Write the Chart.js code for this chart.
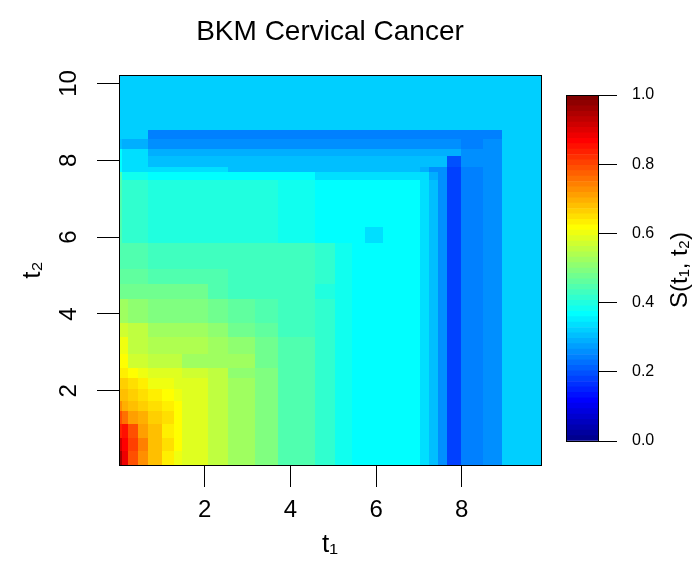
<!DOCTYPE html>
<html>
<head>
<meta charset="utf-8">
<title>BKM Cervical Cancer</title>
<script src="https://cdn.jsdelivr.net/npm/chart.js@4.4.1/dist/chart.umd.min.js"></script>
<style>
  html, body { margin: 0; padding: 0; background: #fff; }
  #wrap { position: relative; width: 695px; height: 563px; }
  #surfChart { position: absolute; left: 0; top: 0; }
  #keyChart { position: absolute; left: 540px; top: 0; }
</style>
</head>
<body>
<div id="wrap">
  <canvas id="surfChart" width="695" height="563"></canvas>
  <canvas id="keyChart" width="155" height="563"></canvas>
</div>
<script>
Chart.defaults.font.family = '"Liberation Sans", Arial, Helvetica, sans-serif';
Chart.defaults.color = '#000';

// cell edges of the estimate along t1 and t2
const t1Breaks = [0, 0.08, 0.22, 0.45, 0.68, 1.00, 1.29, 1.46, 2.08, 2.54, 3.18, 3.71, 4.58,
                  5.04, 5.44, 5.74, 6.17, 7.03, 7.24, 7.45, 7.66, 7.99, 8.50, 8.94, 9.85];
const t2Breaks = [0.07, 0.43, 0.77, 1.14, 1.48, 1.74, 2.05, 2.34, 2.60, 2.97, 3.39, 3.77, 4.40,
                  4.79, 5.18, 5.84, 6.27, 7.48, 7.70, 7.83, 8.10, 8.29, 8.55, 8.80, 10.22];

// axis limits and ticks
const t1Range = [0, 9.85];
const t2Range = [0.07, 10.22];
const t1Ticks = [2, 4, 6, 8];
const t2Ticks = [2, 4, 6, 8, 10];
const keyTicks = [0, 0.2, 0.4, 0.6, 0.8, 1.0];

// S(t1, t2) for each cell, one row per t2 interval, lowest row first
const survRows = [
  [0.96, 0.89, 0.79, 0.73, 0.68, 0.64, 0.60, 0.59, 0.55, 0.52, 0.49, 0.44, 0.41, 0.39, 0.37, 0.37, 0.37, 0.34, 0.30, 0.26, 0.18, 0.24, 0.26, 0.32],
  [0.92, 0.87, 0.81, 0.74, 0.68, 0.65, 0.62, 0.59, 0.55, 0.52, 0.49, 0.44, 0.41, 0.39, 0.37, 0.37, 0.37, 0.34, 0.30, 0.26, 0.18, 0.24, 0.26, 0.32],
  [0.84, 0.85, 0.79, 0.71, 0.68, 0.64, 0.61, 0.59, 0.55, 0.52, 0.49, 0.44, 0.41, 0.39, 0.37, 0.37, 0.37, 0.34, 0.30, 0.26, 0.18, 0.24, 0.26, 0.32],
  [0.79, 0.76, 0.71, 0.70, 0.67, 0.65, 0.62, 0.59, 0.55, 0.52, 0.49, 0.44, 0.41, 0.39, 0.37, 0.37, 0.37, 0.34, 0.30, 0.26, 0.18, 0.24, 0.26, 0.32],
  [0.73, 0.70, 0.68, 0.67, 0.65, 0.63, 0.62, 0.59, 0.55, 0.52, 0.49, 0.44, 0.41, 0.39, 0.37, 0.37, 0.37, 0.34, 0.30, 0.26, 0.18, 0.24, 0.26, 0.32],
  [0.68, 0.68, 0.66, 0.65, 0.63, 0.62, 0.60, 0.59, 0.55, 0.52, 0.49, 0.44, 0.41, 0.39, 0.37, 0.37, 0.37, 0.34, 0.30, 0.26, 0.18, 0.24, 0.26, 0.32],
  [0.66, 0.66, 0.65, 0.63, 0.60, 0.60, 0.59, 0.58, 0.55, 0.52, 0.49, 0.44, 0.41, 0.39, 0.37, 0.37, 0.37, 0.34, 0.30, 0.26, 0.18, 0.24, 0.26, 0.32],
  [0.63, 0.63, 0.62, 0.60, 0.59, 0.59, 0.58, 0.57, 0.55, 0.51, 0.49, 0.44, 0.41, 0.39, 0.37, 0.37, 0.37, 0.34, 0.30, 0.26, 0.18, 0.24, 0.26, 0.32],
  [0.62, 0.62, 0.57, 0.57, 0.55, 0.55, 0.55, 0.53, 0.53, 0.52, 0.48, 0.44, 0.41, 0.39, 0.37, 0.37, 0.37, 0.34, 0.30, 0.26, 0.18, 0.24, 0.26, 0.32],
  [0.60, 0.60, 0.55, 0.55, 0.54, 0.54, 0.54, 0.54, 0.52, 0.51, 0.47, 0.44, 0.41, 0.39, 0.37, 0.37, 0.37, 0.34, 0.30, 0.26, 0.18, 0.24, 0.26, 0.32],
  [0.57, 0.57, 0.55, 0.55, 0.52, 0.52, 0.52, 0.52, 0.50, 0.48, 0.46, 0.43, 0.41, 0.39, 0.37, 0.37, 0.37, 0.34, 0.30, 0.26, 0.18, 0.24, 0.26, 0.32],
  [0.53, 0.53, 0.51, 0.51, 0.49, 0.49, 0.49, 0.49, 0.47, 0.46, 0.45, 0.43, 0.41, 0.39, 0.37, 0.37, 0.37, 0.34, 0.30, 0.26, 0.18, 0.24, 0.26, 0.32],
  [0.48, 0.48, 0.47, 0.47, 0.47, 0.47, 0.47, 0.47, 0.45, 0.43, 0.43, 0.43, 0.40, 0.39, 0.37, 0.37, 0.37, 0.34, 0.30, 0.26, 0.18, 0.24, 0.26, 0.32],
  [0.46, 0.46, 0.46, 0.46, 0.45, 0.45, 0.45, 0.45, 0.44, 0.43, 0.43, 0.43, 0.41, 0.39, 0.37, 0.37, 0.37, 0.34, 0.30, 0.26, 0.18, 0.24, 0.26, 0.32],
  [0.45, 0.45, 0.44, 0.44, 0.43, 0.43, 0.43, 0.43, 0.43, 0.43, 0.43, 0.43, 0.41, 0.38, 0.37, 0.37, 0.37, 0.34, 0.30, 0.26, 0.18, 0.24, 0.26, 0.32],
  [0.44, 0.41, 0.41, 0.41, 0.40, 0.40, 0.40, 0.40, 0.40, 0.40, 0.40, 0.39, 0.37, 0.37, 0.37, 0.34, 0.37, 0.34, 0.30, 0.26, 0.18, 0.24, 0.26, 0.32],
  [0.44, 0.41, 0.41, 0.41, 0.40, 0.40, 0.40, 0.40, 0.40, 0.40, 0.40, 0.39, 0.37, 0.37, 0.37, 0.37, 0.37, 0.34, 0.30, 0.26, 0.18, 0.24, 0.26, 0.32],
  [0.44, 0.38, 0.38, 0.38, 0.37, 0.37, 0.37, 0.37, 0.37, 0.37, 0.37, 0.36, 0.34, 0.34, 0.34, 0.34, 0.34, 0.33, 0.29, 0.26, 0.18, 0.24, 0.26, 0.32],
  [0.37, 0.34, 0.34, 0.34, 0.34, 0.34, 0.34, 0.34, 0.34, 0.30, 0.30, 0.30, 0.30, 0.30, 0.30, 0.30, 0.30, 0.29, 0.26, 0.25, 0.18, 0.24, 0.26, 0.32],
  [0.37, 0.33, 0.33, 0.33, 0.30, 0.30, 0.30, 0.30, 0.30, 0.30, 0.30, 0.30, 0.30, 0.30, 0.30, 0.30, 0.30, 0.30, 0.30, 0.30, 0.20, 0.25, 0.26, 0.32],
  [0.37, 0.33, 0.33, 0.33, 0.29, 0.29, 0.29, 0.29, 0.29, 0.29, 0.29, 0.29, 0.29, 0.29, 0.29, 0.29, 0.29, 0.29, 0.29, 0.29, 0.29, 0.25, 0.26, 0.32],
  [0.31, 0.29, 0.29, 0.29, 0.25, 0.25, 0.25, 0.25, 0.25, 0.25, 0.25, 0.25, 0.25, 0.25, 0.25, 0.25, 0.25, 0.25, 0.25, 0.25, 0.25, 0.24, 0.25, 0.32],
  [0.32, 0.32, 0.32, 0.32, 0.24, 0.24, 0.24, 0.24, 0.24, 0.24, 0.24, 0.24, 0.24, 0.24, 0.24, 0.24, 0.24, 0.24, 0.24, 0.24, 0.24, 0.24, 0.24, 0.32],
  [0.32, 0.32, 0.32, 0.32, 0.32, 0.32, 0.32, 0.32, 0.32, 0.32, 0.32, 0.32, 0.32, 0.32, 0.32, 0.32, 0.32, 0.32, 0.32, 0.32, 0.32, 0.32, 0.32, 0.32]
];

// 64-step blue-cyan-yellow-red scale (tim.colors)
const palette = [
  '#00008F', '#00009F', '#0000AF', '#0000BF', '#0000CF', '#0000DF', '#0000EF', '#0000FF',
  '#0010FF', '#0020FF', '#0030FF', '#0040FF', '#0050FF', '#0060FF', '#0070FF', '#0080FF',
  '#008FFF', '#009FFF', '#00AFFF', '#00BFFF', '#00CFFF', '#00DFFF', '#00EFFF', '#00FFFF',
  '#10FFEF', '#20FFDF', '#30FFCF', '#40FFBF', '#50FFAF', '#60FF9F', '#70FF8F', '#80FF80',
  '#8FFF70', '#9FFF60', '#AFFF50', '#BFFF40', '#CFFF30', '#DFFF20', '#EFFF10', '#FFFF00',
  '#FFEF00', '#FFDF00', '#FFCF00', '#FFBF00', '#FFAF00', '#FF9F00', '#FF8F00', '#FF8000',
  '#FF7000', '#FF6000', '#FF5000', '#FF4000', '#FF3000', '#FF2000', '#FF1000', '#FF0000',
  '#EF0000', '#DF0000', '#CF0000', '#BF0000', '#AF0000', '#9F0000', '#8F0000', '#800000'
];

function colourFor(s) {
  const i = Math.floor(s * palette.length);
  return palette[Math.min(palette.length - 1, Math.max(0, i))];
}

// paints the cells through the chart scales, then the frame around the plot
const heatmapPlugin = {
  id: 'heatmap',
  beforeDatasetsDraw(chart) {
    const { ctx, scales: { x, y } } = chart;
    ctx.save();
    for (let r = 0; r < survRows.length; r++) {
      const yTop = Math.round(y.getPixelForValue(t2Breaks[r + 1]));
      const yBot = Math.round(y.getPixelForValue(t2Breaks[r]));
      for (let c = 0; c < t1Breaks.length - 1; c++) {
        const xL = Math.round(x.getPixelForValue(t1Breaks[c]));
        const xR = Math.round(x.getPixelForValue(t1Breaks[c + 1]));
        ctx.fillStyle = colourFor(survRows[r][c]);
        ctx.fillRect(xL, yTop, xR - xL, yBot - yTop);
      }
    }
    ctx.restore();
  },
  afterDraw(chart) {
    const { ctx, chartArea: a } = chart;
    ctx.save();
    ctx.strokeStyle = '#000';
    ctx.lineWidth = 1;
    ctx.strokeRect(Math.round(a.left) + 0.5, Math.round(a.top) + 0.5,
                   Math.round(a.right - a.left), Math.round(a.bottom - a.top));
    ctx.restore();
  }
};

const surfChart = new Chart(document.getElementById('surfChart'), {
  type: 'scatter',
  data: { datasets: [{ data: [], pointRadius: 0 }] },
  options: {
    responsive: false,
    animation: false,
    layout: { padding: { left: 0, right: 154, top: 0, bottom: 0 } },
    plugins: {
      legend: { display: false },
      tooltip: { enabled: false },
      title: {
        display: true,
        text: 'BKM Cervical Cancer',
        fullSize: false,
        color: '#000',
        font: { size: 28, weight: 'normal' },
        padding: { top: 15, bottom: 26.4 }
      }
    },
    scales: {
      x: {
        type: 'linear',
        min: t1Range[0],
        max: t1Range[1],
        afterBuildTicks: s => { s.ticks = t1Ticks.map(v => ({ value: v })); },
        afterFit: s => { s.height = 98; },
        border: { display: false },
        grid: { drawOnChartArea: false, tickLength: 22, tickColor: '#000', tickWidth: 1 },
        ticks: { font: { size: 24 }, padding: 9 },
        title: { display: true, text: 't₁', font: { size: 26 }, padding: { top: 0, bottom: 3 } }
      },
      y: {
        type: 'linear',
        min: t2Range[0],
        max: t2Range[1],
        afterBuildTicks: s => { s.ticks = t2Ticks.map(v => ({ value: v })); },
        afterFit: s => { s.width = 119; },
        border: { display: false },
        grid: { drawOnChartArea: false, tickLength: 22, tickColor: '#000', tickWidth: 1 },
        ticks: { font: { size: 24 }, padding: 14, minRotation: 90, maxRotation: 90, crossAlign: 'center' },
        title: { display: true, text: 't₂', font: { size: 26 }, padding: { top: 17, bottom: 0 } }
      }
    }
  },
  plugins: [heatmapPlugin]
});

// frame and rotated caption of the colour key
const keyFramePlugin = {
  id: 'keyFrame',
  afterDatasetsDraw(chart) {
    const { ctx, chartArea: a } = chart;
    ctx.save();
    ctx.strokeStyle = '#000';
    ctx.lineWidth = 1;
    ctx.strokeRect(Math.round(a.left) + 0.5, Math.round(a.top) + 0.5,
                   Math.round(a.right - a.left), Math.round(a.bottom - a.top));
    ctx.restore();
  },
  afterDraw(chart) {
    const { ctx } = chart;
    ctx.save();
    ctx.translate(140, 270);
    ctx.rotate(-Math.PI / 2);
    ctx.fillStyle = '#000';
    ctx.font = '24px "Liberation Sans", Arial, sans-serif';
    ctx.textAlign = 'center';
    ctx.textBaseline = 'middle';
    ctx.fillText('S(t₁, t₂)', 0, 0);
    ctx.restore();
  }
};

const keyChart = new Chart(document.getElementById('keyChart'), {
  type: 'bar',
  data: {
    labels: [''],
    datasets: palette.map(c => ({
      data: [1 / palette.length],
      backgroundColor: c,
      borderWidth: 0,
      barPercentage: 1,
      categoryPercentage: 1
    }))
  },
  options: {
    responsive: false,
    animation: false,
    layout: { padding: { left: 26, right: 0, top: 95, bottom: 122 } },
    plugins: { legend: { display: false }, tooltip: { enabled: false } },
    scales: {
      x: { display: false, stacked: true },
      y: {
        stacked: true,
        position: 'right',
        min: 0,
        max: 1,
        afterBuildTicks: s => { s.ticks = keyTicks.map(v => ({ value: v })); },
        afterFit: s => { s.width = 97; },
        border: { display: false },
        grid: { drawOnChartArea: false, tickLength: 19, tickColor: '#000', tickWidth: 1 },
        ticks: { font: { size: 16 }, padding: 15, callback: v => v.toFixed(1) }
      }
    }
  },
  plugins: [keyFramePlugin]
});
</script>
</body>
</html>
